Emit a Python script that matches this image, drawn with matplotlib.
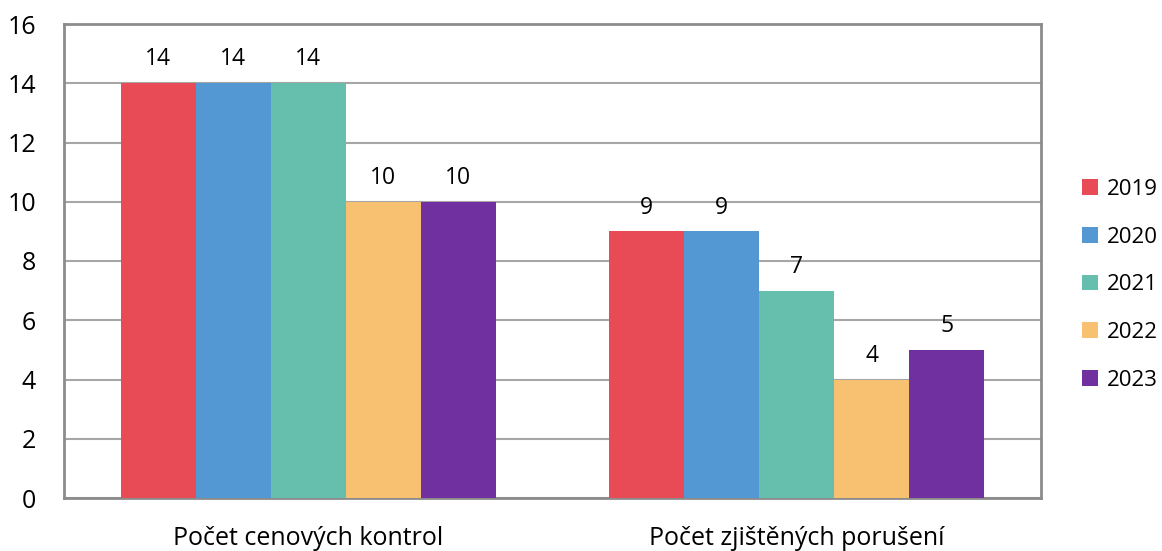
import numpy as np
import matplotlib.pyplot as plt

plt.rcParams['font.family'] = ['Open Sans', 'DejaVu Sans']

categories = ["Počet cenových kontrol", "Počet zjištěných porušení"]
years = ["2019", "2020", "2021", "2022", "2023"]
values = {
    "2019": [14, 9],
    "2020": [14, 9],
    "2021": [14, 7],
    "2022": [10, 4],
    "2023": [10, 5],
}
colors = ["#e84b55", "#5397d3", "#66bfad", "#f8c071", "#7030a0"]

fig = plt.figure(figsize=(11.62, 5.51), dpi=100)
ax = fig.add_axes([64 / 1162, 53 / 551, 977 / 1162, 474 / 551])

x = np.arange(len(categories))
w = 0.1537
for i, (yr, c) in enumerate(zip(years, colors)):
    pos = x + (i - 2) * w
    bars = ax.bar(pos, values[yr], width=w, color=c, label=yr, zorder=3)
    for b, v in zip(bars, values[yr]):
        ax.text(b.get_x() + b.get_width() / 2, v + 0.4, str(v),
                ha="center", va="bottom", fontsize=16.5)

ax.set_xlim(-0.5, 1.5)
ax.set_ylim(0, 16)
ax.set_yticks(range(0, 17, 2))
ax.set_xticks(x)
ax.set_xticklabels(categories, fontsize=18)
ax.tick_params(axis="y", labelsize=18, length=0, pad=20)
ax.tick_params(axis="x", length=0, pad=20)
ax.grid(axis="y", color="#a6a6a6", linewidth=1.5, zorder=0)
for s in ax.spines.values():
    s.set_color("#8c8c8c")
    s.set_linewidth(2)

ax.legend(loc="center left", bbox_to_anchor=(1.022, 0.45), frameon=False,
          fontsize=16, handlelength=0.7, handleheight=0.7,
          handletextpad=0.4, labelspacing=1.2)

fig.savefig("out.png", dpi=100)
